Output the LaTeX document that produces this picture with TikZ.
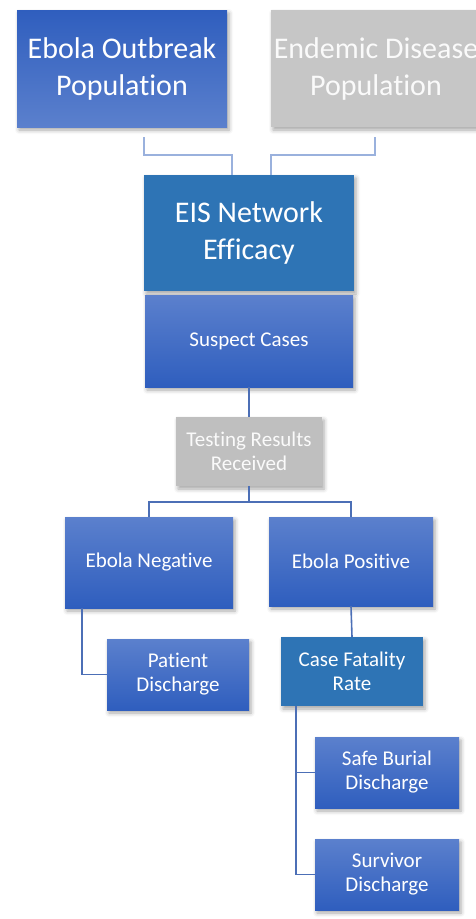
\documentclass[tikz,border=0pt]{standalone}
\usepackage{fontspec}
\setmainfont{Carlito}[Ligatures=NoCommon]
\usetikzlibrary{shadows.blur}
\definecolor{bdark}{HTML}{2F5EBE}
\definecolor{blight}{HTML}{5B80CD}
\definecolor{bflat}{HTML}{2E74B5}
\definecolor{gbox}{HTML}{C6C6C6}
\definecolor{gbox2}{HTML}{BFBFBF}
\definecolor{lnlight}{HTML}{9AB1DD}
\definecolor{lndark}{HTML}{4C6FB6}
\tikzset{
  box/.style={rectangle, inner sep=2pt, align=center, text=white,
    blur shadow={shadow xshift=2pt, shadow yshift=-3pt, shadow blur radius=4pt, shadow opacity=35}},
  big/.style={font=\fontsize{30}{37}\selectfont},
  small/.style={font=\fontsize{21}{24}\selectfont},
  gradup/.style={box, top color=blight, bottom color=bdark},
  graddown/.style={box, top color=bdark, bottom color=blight},
  flat/.style={box, fill=bflat},
  greybox/.style={box, fill=gbox, text=white!96!gray},
  conn/.style={draw=lndark, line width=1.6pt},
  connlight/.style={draw=lnlight, line width=1.6pt},
}
\begin{document}
\begin{tikzpicture}[x=1pt,y=-1pt]
\useasboundingbox (0,0) rectangle (475,919);
\node[graddown, big, minimum width=210, minimum height=117] (ebo) at (122,68.5) {Ebola Outbreak\\Population};
\node[greybox, big, minimum width=210, minimum height=117] (end) at (376,68.5) {Endemic Disease\\Population};
\node[flat, big, minimum width=210, minimum height=116] (eis) at (249,233) {EIS Network\\Efficacy};
\node[gradup, small, minimum width=208, minimum height=92] (sus) at (249,341) {Suspect Cases};
\node[greybox, small, fill=gbox2, minimum width=146, minimum height=69] (test) at (249,451.5) {Testing Results\\Received};
\node[gradup, small, minimum width=168, minimum height=91] (neg) at (149,562.5) {Ebola Negative};
\node[gradup, small, minimum width=164, minimum height=89] (pos) at (351,561.5) {Ebola Positive};
\node[gradup, small, minimum width=142, minimum height=71] (pat) at (178,674.5) {Patient\\Discharge};
\node[flat, small, minimum width=142, minimum height=69] (cfr) at (352,671.5) {Case Fatality\\Rate};
\node[gradup, small, minimum width=144, minimum height=71] (safe) at (387,772.5) {Safe Burial\\Discharge};
\node[gradup, small, minimum width=144, minimum height=71] (surv) at (387,874.5) {Survivor\\Discharge};
% top connectors
\coordinate (c1) at ([xshift=22, yshift=-10]ebo.south);
\coordinate (c2) at ([xshift=-1, yshift=-10]end.south);
\draw[connlight] (c1) -- ++(0,18) -| ([xshift=-17]eis.north);
\draw[connlight] (c2) -- ++(0,18) -| ([xshift=22]eis.north);
% lower connectors
\draw[conn] (sus.south) -- (test.north);
\draw[conn] (test.south) -- ++(0,16) -| (neg.north);
\draw[conn] (test.south) -- ++(0,16) -| (pos.north);
\draw[conn] ([xshift=-67]neg.south) |- (pat.west);
\draw[conn] (pos.south) -- (cfr.north);
\draw[conn] ([xshift=-56]cfr.south) |- (safe.west);
\draw[conn] ([xshift=-56]cfr.south) |- (surv.west);
\end{tikzpicture}
\end{document}
